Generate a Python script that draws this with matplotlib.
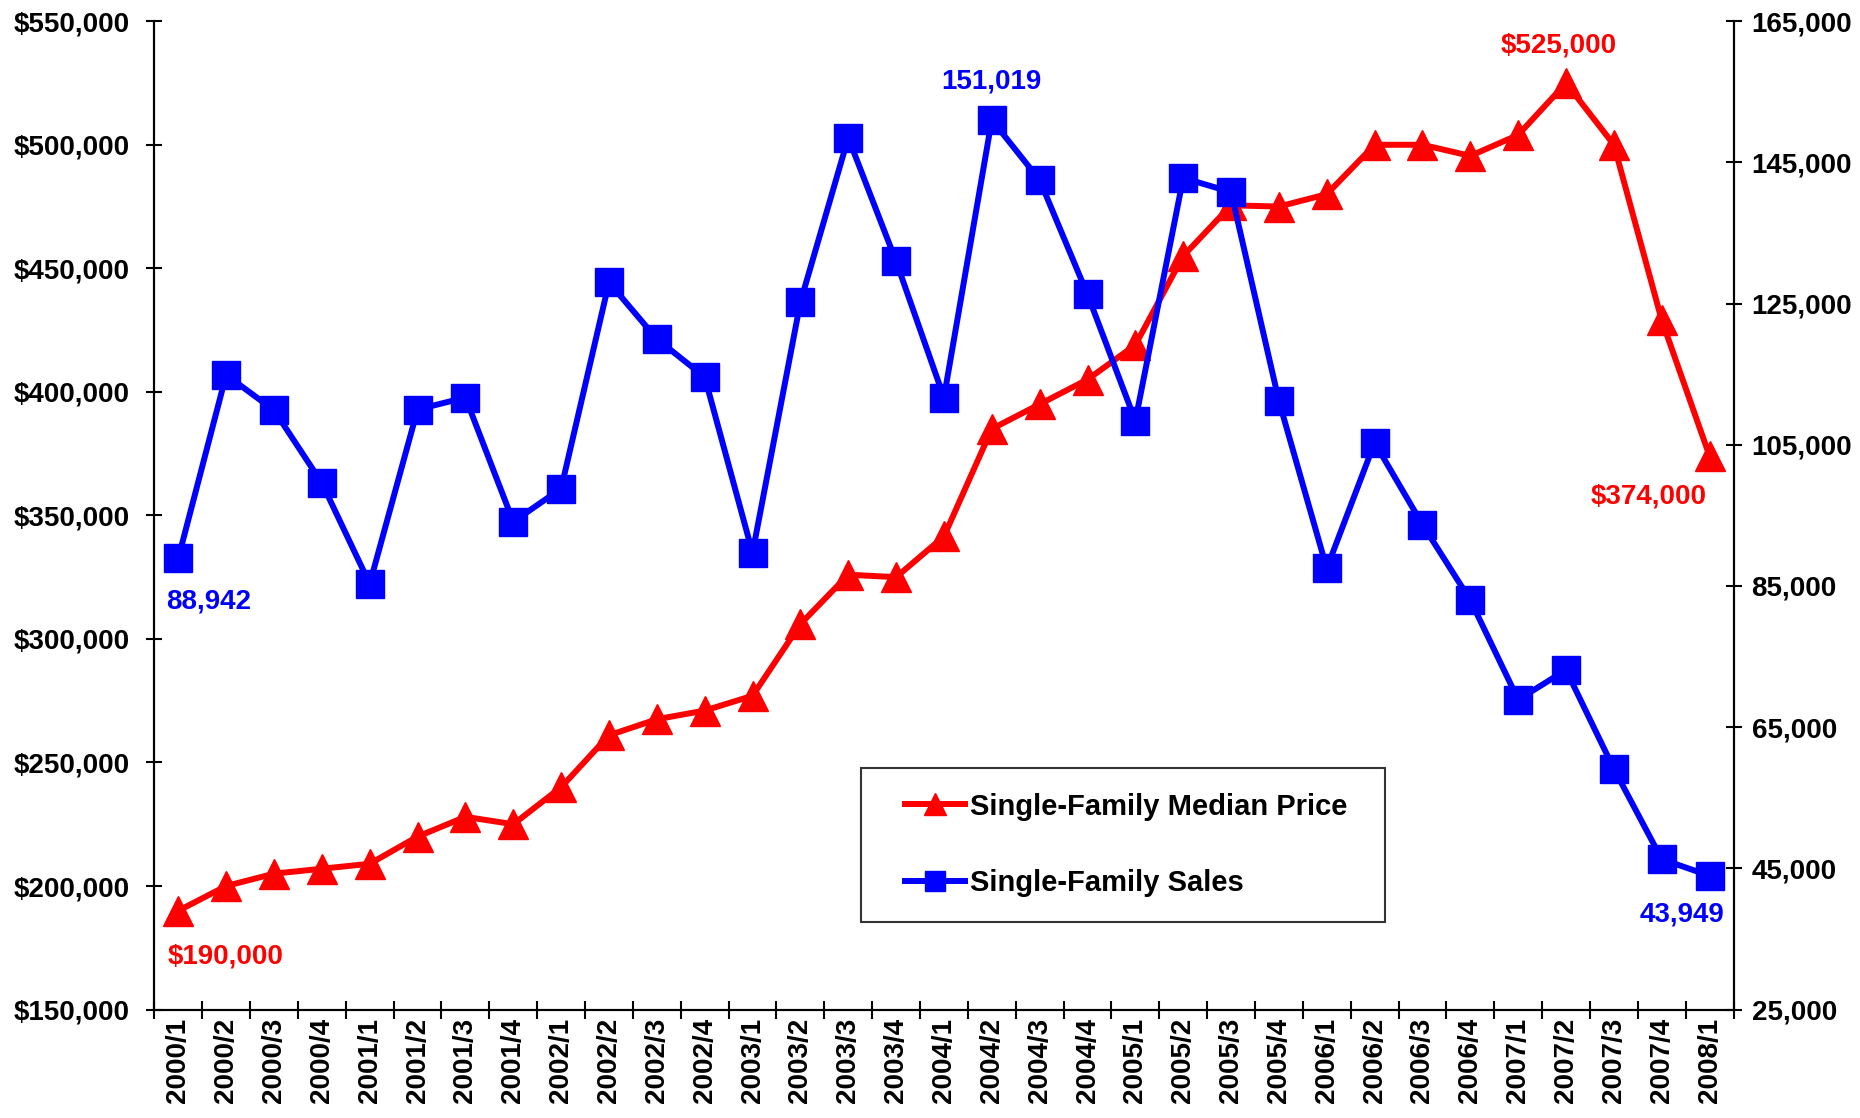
import matplotlib
matplotlib.use("Agg")
import matplotlib.pyplot as plt
from matplotlib.ticker import FuncFormatter, FixedLocator
from matplotlib.legend_handler import HandlerLine2D

plt.rcParams['font.family'] = ['Liberation Sans', 'DejaVu Sans']
plt.rcParams['font.weight'] = 'bold'

quarters = ["2000/1", "2000/2", "2000/3", "2000/4",
            "2001/1", "2001/2", "2001/3", "2001/4",
            "2002/1", "2002/2", "2002/3", "2002/4",
            "2003/1", "2003/2", "2003/3", "2003/4",
            "2004/1", "2004/2", "2004/3", "2004/4",
            "2005/1", "2005/2", "2005/3", "2005/4",
            "2006/1", "2006/2", "2006/3", "2006/4",
            "2007/1", "2007/2", "2007/3", "2007/4",
            "2008/1"]

# median price ($), left axis
median_price = [190000, 200000, 205000, 207000,
                209000, 220000, 228000, 225000,
                240000, 261000, 267500, 271000,
                277000, 306000, 326000, 325000,
                341500, 385000, 395000, 405000,
                419000, 455000, 475500, 475000,
                480000, 500000, 500000, 495500,
                504000, 525000, 500000, 429000,
                374000]

# sales, right axis
sales = [88942, 114900, 109900, 99600,
         85300, 110000, 111700, 94100,
         98800, 128000, 120000, 114600,
         89700, 125200, 148500, 131000,
         111700, 151019, 142500, 126300,
         108400, 142800, 140800, 111200,
         87500, 105300, 93700, 83000,
         68900, 73100, 59100, 46300,
         43949]

RED = "#FF0000"
BLUE = "#0000FF"
FS = 20

x = list(range(len(quarters)))

fig = plt.figure(figsize=(18.6, 11.18), dpi=100)
ax = fig.add_axes([0.083, 0.097, 0.849, 0.884])
ax2 = ax.twinx()

l1, = ax.plot(x, median_price, color=RED, lw=4.3, marker="^", ms=21,
              mec=RED, mfc=RED, label="Single-Family Median Price")
l2, = ax2.plot(x, sales, color=BLUE, lw=4.3, marker="s", ms=20,
               mec=BLUE, mfc=BLUE, label="Single-Family Sales")

ax.set_xlim(-0.5, len(quarters) - 0.5)
ax.set_ylim(150000, 550000)
ax2.set_ylim(25000, 165000)

ax.set_yticks(range(150000, 550001, 50000))
ax2.set_yticks(range(25000, 165001, 20000))
ax.yaxis.set_major_formatter(FuncFormatter(lambda v, p: f"${v:,.0f}"))
ax2.yaxis.set_major_formatter(FuncFormatter(lambda v, p: f"{v:,.0f}"))

# category labels at centres, tick marks at category boundaries
ax.set_xticks(x)
ax.set_xticklabels(quarters, rotation=90, fontsize=FS, fontweight="bold")
ax.xaxis.set_minor_locator(FixedLocator([i - 0.5 for i in range(len(quarters) + 1)]))
ax.tick_params(axis="x", which="major", length=0, pad=6)
ax.tick_params(axis="x", which="minor", direction="inout", length=13, width=1.5)

ax.tick_params(axis="y", direction="inout", length=12, width=1.5, labelsize=FS, pad=12)
ax2.tick_params(axis="y", direction="inout", length=12, width=1.5, labelsize=FS, pad=7)
for a in (ax, ax2):
    for lab in a.get_yticklabels():
        lab.set_fontweight("bold")
    a.spines["top"].set_visible(False)
    for s in ("left", "right", "bottom"):
        a.spines[s].set_linewidth(1.5)

# point labels
ax.annotate("$190,000", (0, median_price[0]), xytext=(34, -33), textcoords="offset points",
            ha="center", va="center", color=RED, fontsize=FS, fontweight="bold")
ax.annotate("$525,000", (29, median_price[29]), xytext=(-5, 27), textcoords="offset points",
            ha="center", va="center", color=RED, fontsize=FS, fontweight="bold")
ax.annotate("$374,000", (32, median_price[32]), xytext=(-44, -29), textcoords="offset points",
            ha="center", va="center", color=RED, fontsize=FS, fontweight="bold")
ax2.annotate("88,942", (0, sales[0]), xytext=(22, -31), textcoords="offset points",
             ha="center", va="center", color=BLUE, fontsize=FS, fontweight="bold")
ax2.annotate("151,019", (17, sales[17]), xytext=(0, 28), textcoords="offset points",
             ha="center", va="center", color=BLUE, fontsize=FS, fontweight="bold")
ax2.annotate("43,949", (32, sales[32]), xytext=(-20, -28), textcoords="offset points",
             ha="center", va="center", color=BLUE, fontsize=FS, fontweight="bold")

# handle shifted right inside the box, as in the original
hmap = {l1: HandlerLine2D(xpad=0.65), l2: HandlerLine2D(xpad=0.65)}
leg = ax2.legend(handles=[l1, l2], loc="lower left", bbox_to_anchor=(0.4475, 0.089, 0.3315, 0.158),
                 mode="expand", fontsize=21, frameon=True, fancybox=False, edgecolor="black",
                 handlelength=2.7, handletextpad=0.2, labelspacing=1.65, borderpad=0.85,
                 borderaxespad=0, markerscale=0.75, handler_map=hmap)
leg.get_frame().set_linewidth(1.5)
for t in leg.get_texts():
    t.set_fontweight("bold")

fig.savefig("out.png", dpi=100)
